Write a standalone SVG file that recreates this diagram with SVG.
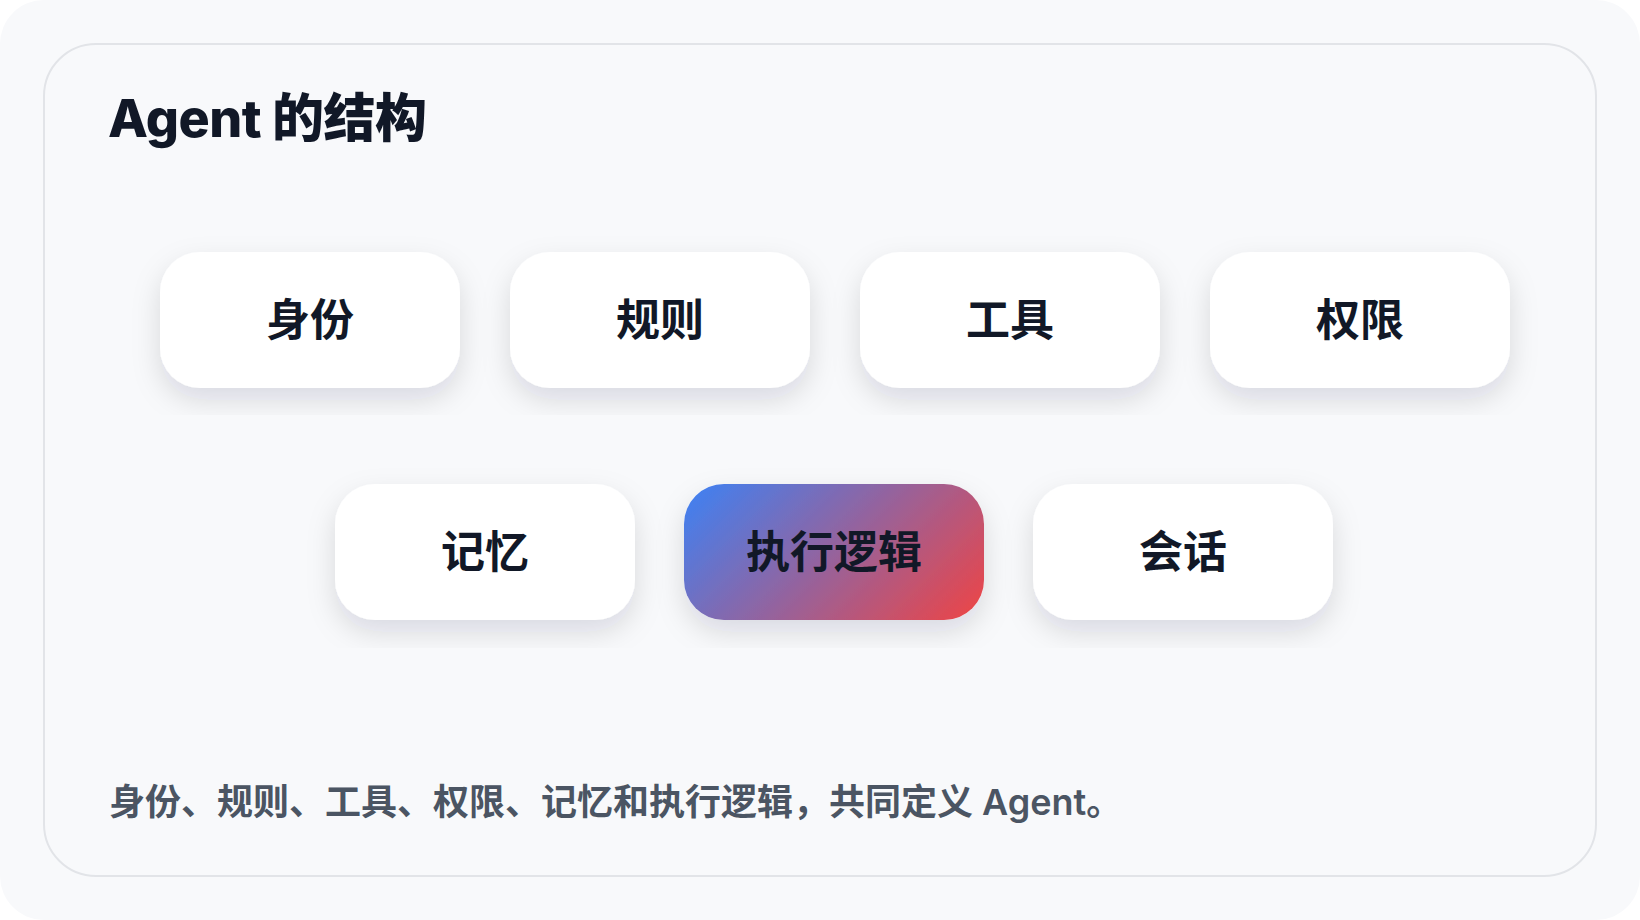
<svg xmlns="http://www.w3.org/2000/svg" width="1640" height="920" viewBox="0 0 1640 920">
  <style>
    .box { fill: #ffffff; }
    .lbl { font-family: Inter, "Noto Sans CJK SC", sans-serif; font-weight: 700; font-size: 44px; fill: #111827; text-anchor: middle; }
    .title { font-family: Inter, "Noto Sans CJK SC", sans-serif; font-weight: 800; font-size: 52px; fill: #111827; }
    .foot { font-family: Inter, "Noto Sans CJK SC", sans-serif; font-weight: 600; font-size: 36px; fill: #4b5563; }
  </style>
  <defs>
    <filter id="shadow" x="-30%" y="-50%" width="160%" height="220%">
      <feDropShadow dx="0" dy="12" stdDeviation="14" flood-color="#0f172a" flood-opacity="0.13"/>
    </filter>
    <linearGradient id="grad" gradientUnits="userSpaceOnUse" x1="724" y1="443" x2="942" y2="661">
      <stop offset="0" stop-color="#3b82f6"/>
      <stop offset="1" stop-color="#ef4444"/>
    </linearGradient>
    <clipPath id="row1clip"><rect x="100" y="210" width="1440" height="205"/></clipPath>
    <clipPath id="row2clip"><rect x="100" y="442" width="1440" height="206"/></clipPath>
  </defs>
  <rect x="0" y="0" width="1640" height="920" fill="#ffffff"/>
  <rect x="0" y="0" width="1640" height="920" rx="44" fill="#f8f9fb"/>
  <rect id="card" x="44" y="44" width="1552" height="832" rx="52" fill="#f8f9fb" stroke="#e2e4e8" stroke-width="2"/>
  <text id="title" class="title" x="108" y="137" letter-spacing="-0.5">Agent 的结构</text>
  <g id="connectors"></g>
  <g clip-path="url(#row1clip)">
    <g id="node-identity">
      <rect class="box" x="160" y="252" width="300" height="136" rx="40" filter="url(#shadow)"/>
      <text class="lbl" x="310" y="336">身份</text>
    </g>
    <g id="node-rules">
      <rect class="box" x="510" y="252" width="300" height="136" rx="40" filter="url(#shadow)"/>
      <text class="lbl" x="660" y="336">规则</text>
    </g>
    <g id="node-tools">
      <rect class="box" x="860" y="252" width="300" height="136" rx="40" filter="url(#shadow)"/>
      <text class="lbl" x="1010" y="336">工具</text>
    </g>
    <g id="node-permissions">
      <rect class="box" x="1210" y="252" width="300" height="136" rx="40" filter="url(#shadow)"/>
      <text class="lbl" x="1360" y="336">权限</text>
    </g>
  </g>
  <g clip-path="url(#row2clip)">
    <g id="node-memory">
      <rect class="box" x="335" y="484" width="300" height="136" rx="40" filter="url(#shadow)"/>
      <text class="lbl" x="485" y="568">记忆</text>
    </g>
    <g id="node-logic">
      <rect x="684" y="484" width="300" height="136" rx="40" fill="url(#grad)" filter="url(#shadow)"/>
      <text class="lbl" x="834" y="568">执行逻辑</text>
    </g>
    <g id="node-session">
      <rect class="box" x="1033" y="484" width="300" height="136" rx="40" filter="url(#shadow)"/>
      <text class="lbl" x="1183" y="568">会话</text>
    </g>
  </g>
  <text id="footer" class="foot" x="109" y="815">身份、规则、工具、权限、记忆和执行逻辑，共同定义 Agent。</text>
</svg>
